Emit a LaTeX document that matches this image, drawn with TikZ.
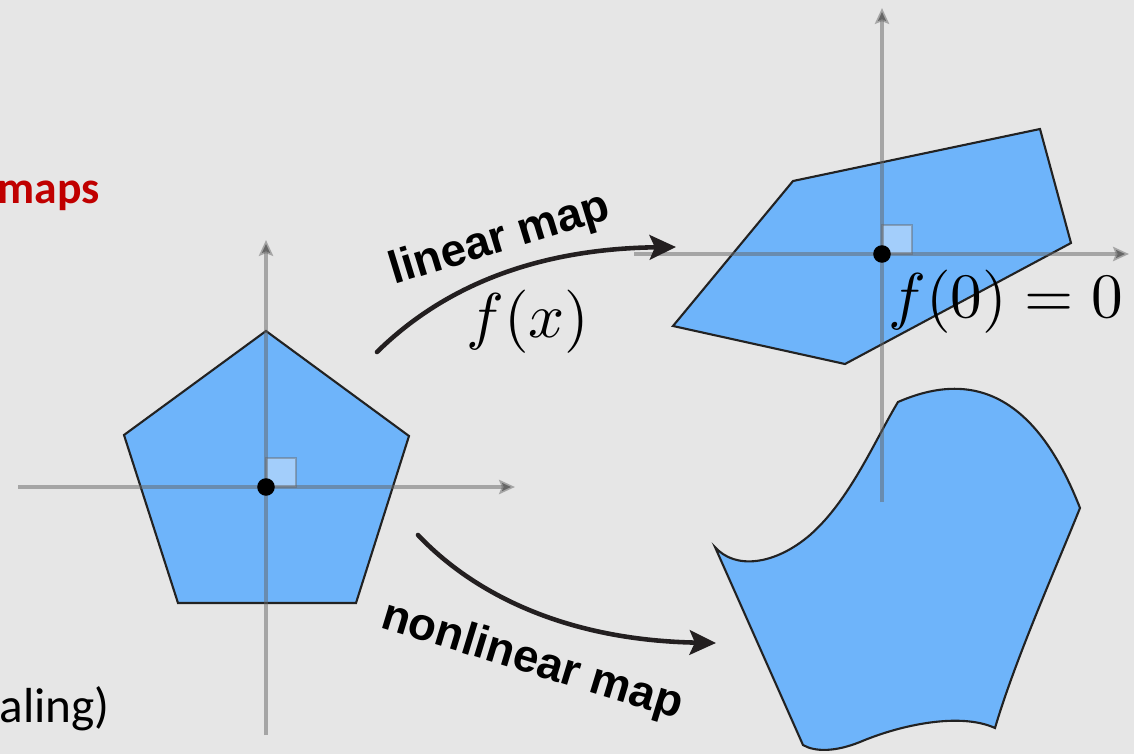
\documentclass[tikz,border=0pt]{standalone}
\usepackage{fontspec}
\usepackage{graphicx}
\usetikzlibrary{arrows.meta}
\newfontfamily\labfont{Liberation Sans}
\newfontfamily\califont{Carlito}
\definecolor{bg}{HTML}{E6E6E6}
\definecolor{shapeblue}{HTML}{6EB4FA}
\definecolor{lightsq}{HTML}{A3CEFB}
\definecolor{axisc}{HTML}{666666}
\definecolor{edge}{HTML}{222222}
\definecolor{arrowc}{HTML}{231F20}
\definecolor{titlered}{HTML}{C00000}
\tikzset{
  blob/.style={fill=shapeblue, draw=edge, line width=1.2pt, line join=miter},
  axis/.style={draw=axisc, draw opacity=0.5, line width=2.2pt, -{Stealth[length=9pt,width=8pt,inset=1.5pt]}},
  sqmark/.style={fill=lightsq, draw=axisc, draw opacity=0.45, line width=1.5pt},
  origin/.style={fill=black},
  maparrow/.style={draw=arrowc, line width=2.6pt, line cap=round, -{Stealth[length=15pt,width=14pt,inset=3pt]}},
  maplabel/.style={font=\labfont\bfseries\fontsize{26}{30}\selectfont, inner sep=0pt},
  mathlabel/.style={inner sep=0pt}
}
\begin{document}
\begin{tikzpicture}[x=0.02cm,y=-0.02cm]
\useasboundingbox[fill=bg] (0,0) rectangle (1134,754);

% left pentagon
\draw[blob] (266,331) -- (409,436) -- (356,603) -- (178,603) -- (124,435) -- cycle;
\filldraw[sqmark] (266,487) rectangle (296,458);
\coordinate (lxa) at (18,487);  \coordinate (lxb) at (515,487);
\coordinate (lya) at (266,735); \coordinate (lyb) at (266,240);
\draw[axis] (lxa) -- (lxb);
\draw[axis] (lya) -- (lyb);
\fill[origin] (266,487) circle[radius=5pt];

% linear image
\draw[blob] (793,181) -- (1040,129) -- (1071,243) -- (845,364) -- (673,326) -- cycle;

% nonlinear image
\draw[blob] (898,402) .. controls (960,375) and (1030,380) .. (1080,508)
  .. controls (1055,570) and (1015,660) .. (995,728)
  .. controls (960,712) and (900,725) .. (860,742)
  .. controls (835,752) and (815,752) .. (803,745)
  -- (715,547)
  .. controls (735,570) and (775,565) .. (810,535)
  .. controls (850,500) and (875,440) .. cycle;

\filldraw[sqmark] (882,254) rectangle (912,225);
\coordinate (rxa) at (634,254); \coordinate (rxb) at (1129,254);
\coordinate (rya) at (882,502); \coordinate (ryb) at (882,8);
\draw[axis] (rxa) -- (rxb);
\draw[axis] (rya) -- (ryb);
\fill[origin] (882,254) circle[radius=5pt];

% arrows
\coordinate (la) at (377,352); \coordinate (lb) at (676,247);
\draw[maparrow] (la) .. controls (440,290) and (530,249) .. (lb);
\coordinate (na) at (418,535); \coordinate (nb) at (716,643);
\draw[maparrow] (na) .. controls (470,590) and (560,640) .. (nb);

% labels
\node[maplabel, rotate=17] (lin) at (500,240) {linear map};
\node[maplabel, rotate=-17] (nonlin) at (532,662) {nonlinear map};
\node[mathlabel, anchor=base] (fx) at (528,337) {\scalebox{3.6}{$f(x)$}};
\node[mathlabel, anchor=base west] (f0) at (888,317) {\scalebox{3.6}{$f(0)=0$}};
\node[inner sep=0pt, anchor=base west, text=titlered, font=\califont\bfseries\fontsize{26}{30}\selectfont] (maps) at (-3,203) {maps};
\node[inner sep=0pt, anchor=base east, font=\califont\fontsize{28}{32}\selectfont] (scal) at (110,722) {aling)};
\end{tikzpicture}
\end{document}
